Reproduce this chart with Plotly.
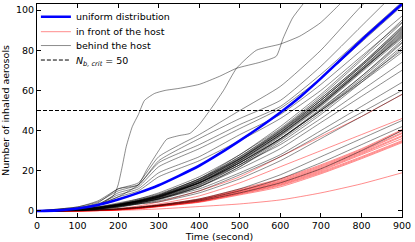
import plotly.graph_objects as go

# ---------------- data ----------------
TIME = [0, 100, 150, 200, 250, 300, 400, 500, 600, 700, 800, 900]

uniform_t = [0, 50, 100, 150, 200, 250, 300, 350, 400, 450, 500, 550, 600, 650, 700, 750, 800, 850, 900]
uniform_v = [0, 0.3, 1.2, 3, 5.7, 9, 12.8, 17.5, 22.5, 28.5, 35, 41.8, 49, 57, 66, 75.5, 85, 94, 103]

# "behind the host" lines with their own time grids
behind_a_t = [0, 100, 150, 190, 200, 210, 220, 235, 250, 265, 290, 316, 350, 400, 450, 492, 550, 590, 607, 630, 656, 680]
behind_a_v = [0, 0.5, 2.5, 8, 13, 22, 32, 42, 48, 55, 58.5, 60, 61, 63, 67, 71, 74, 77, 86, 96, 103, 110]
behind_b_t = [0, 100, 150, 200, 250, 271, 300, 320, 350, 377, 400, 427, 460, 492, 541, 599, 648, 698, 747, 780]
behind_b_v = [0, 1, 3, 7, 13, 20.7, 30, 35.7, 37.5, 38.6, 43, 50.3, 60, 71, 80, 83, 87, 93.5, 103, 110]

# "behind the host" lines on the common TIME grid
behind_u3 = [0, 2, 5, 11, 14, 27, 38, 50, 62, 80, 102, 120]
behind_u4 = [0, 1.5, 4, 11, 13, 25, 36, 46, 55, 72, 92, 112]
behind_u5 = [0, 2, 4.5, 10, 13, 24, 33, 43, 52, 68, 86, 104]
behind_u6 = [0, 1, 3, 9, 12, 22, 31, 41, 51, 66, 84, 102]
behind_u7 = [0, 1.5, 3.5, 8, 11, 19, 27, 38, 48, 63, 80, 97]
behind_u8 = [0, 1, 3, 7, 10, 17, 25, 35, 46, 60, 77, 94]
behind_d1 = [0, 0.8, 2, 4, 6, 9, 17, 28, 42, 58, 76, 95]
behind_d2 = [0, 0.6, 1.8, 3.5, 6, 8.5, 16, 28, 41, 57, 75, 93.5]
behind_d3 = [0, 0.5, 1.5, 3.5, 5.5, 8, 16, 27, 40, 56, 73, 92]
behind_d4 = [0, 0.7, 2, 3, 5, 7.5, 15, 26, 40, 55, 72, 91]
behind_d5 = [0, 0.4, 1.2, 2.8, 5, 7, 15, 26, 39, 55, 72, 90]
behind_d6 = [0, 0.5, 1.5, 3, 5.5, 8, 16, 26, 39, 54, 71, 89]
behind_d7 = [0, 0.6, 1.6, 3.2, 4.8, 7, 14, 25, 38, 53, 70, 88]
behind_d8 = [0, 0.5, 1.4, 2.6, 4.5, 6.5, 14, 25, 38, 53, 70, 87]
behind_d9 = [0, 0.4, 1, 2.4, 4.2, 6.5, 13, 24, 37, 52, 69, 86]
behind_d10 = [0, 0.5, 1.3, 2.8, 4.5, 7, 14, 24, 36, 51, 67, 85]
behind_d11 = [0, 0.3, 1, 2.2, 4, 6, 13, 23, 36, 50, 66, 83.5]
behind_d12 = [0, 0.4, 1.2, 2.5, 4, 6, 12, 22, 35, 49, 65, 82]
behind_d13 = [0, 0.5, 1.5, 3, 5, 7.5, 14, 24, 36, 50, 65, 80]
behind_d14 = [0, 0.3, 0.8, 1.8, 3.5, 5.5, 12, 22, 34, 48, 64, 81]
behind_d15 = [0, 0.6, 1.7, 3.3, 5.2, 7.8, 15.5, 27, 40.5, 56, 73, 91.5]
behind_d16 = [0, 0.4, 1.3, 2.7, 4.6, 6.8, 14.5, 25.5, 38.5, 53.5, 70.5, 88.5]
behind_d17 = [0, 0.5, 1.4, 2.9, 4.9, 7.3, 14.8, 25.8, 39, 54, 71, 89.5]
behind_d18 = [0, 0.6, 1.5, 3.1, 5.1, 7.6, 15.2, 26.5, 39.5, 55, 72.5, 90.5]
behind_d19 = [0, 0.4, 1.1, 2.5, 4.3, 6.6, 13.5, 24.5, 37.5, 52.5, 69.5, 87.5]
behind_d20 = [0, 0.5, 1.3, 2.7, 4.7, 7, 14.2, 25, 38, 53, 70, 86.5]
behind_d21 = [0, 0.3, 0.9, 2, 3.8, 6, 12.5, 23, 35.5, 50.5, 67, 84]
behind_m1 = [0, 0.5, 1.5, 3, 4.5, 7, 14, 24, 36, 50, 64, 79]
behind_m2 = [0, 0.6, 2, 3.5, 5, 7.5, 14, 23, 33, 46, 60, 74]
behind_m3 = [0, 0.4, 1.2, 2.5, 4, 6, 12, 21, 31, 44, 57, 70]
behind_m4 = [0, 0.5, 1.5, 3, 4.5, 6, 11, 19, 28, 40, 52, 64]
behind_m5 = [0, 0.3, 1, 2, 3.5, 5, 10, 18, 27, 38, 49, 60]
behind_m6 = [0, 0.4, 1.2, 2.5, 3.5, 4.5, 9, 16, 25, 36, 47, 58]
behind_m7 = [0, 0.2, 0.6, 1.2, 2, 3, 6, 11, 18, 27, 36, 45]
behind_m8 = [0, 0.2, 0.5, 1, 1.8, 2.8, 5.5, 10, 16, 24, 33, 42]
behind_m9 = [0, 0.1, 0.4, 0.8, 1.5, 2.5, 5, 9, 14, 21, 30, 40]

# "in front of the host" lines on the common TIME grid
front_r1 = [0, 0.1, 0.5, 1.2, 2.5, 4.5, 10, 17, 27, 37, 47, 58]
front_r2 = [0, 0.1, 0.4, 1, 2, 3.5, 7.5, 14, 22, 30, 38, 46]
front_r3 = [0, 0.1, 0.3, 0.9, 1.8, 3, 6, 11, 16, 23, 31, 40.5]
front_r4 = [0, 0.1, 0.3, 0.8, 1.7, 2.9, 5.8, 10.5, 15.5, 22.5, 30.5, 40]
front_r5 = [0, 0.1, 0.3, 0.8, 1.6, 2.8, 5.6, 10.2, 15, 22, 30, 39]
front_r6 = [0, 0.1, 0.3, 0.7, 1.5, 2.7, 5.4, 10, 14.6, 21.5, 29.5, 38.5]
front_r7 = [0, 0.1, 0.2, 0.7, 1.5, 2.6, 5.2, 9.6, 14.2, 21, 29, 37.5]
front_r8 = [0, 0.1, 0.2, 0.7, 1.4, 2.5, 5, 9.3, 13.8, 20.5, 28.5, 37]
front_r9 = [0, 0.1, 0.2, 0.6, 1.3, 2.4, 4.8, 9, 13.4, 20, 28, 36]
front_r10 = [0, 0.1, 0.2, 0.6, 1.3, 2.3, 4.6, 8.7, 13, 19.5, 27, 35]
front_r11 = [0, 0.1, 0.2, 0.6, 1.2, 2.2, 4.5, 8.4, 12.6, 19, 26.5, 34.5]
front_r12 = [0, 0.05, 0.2, 0.5, 1.1, 2.1, 4.3, 8, 12, 18.5, 26, 34]
front_r13 = [0, 0, 0.1, 0.3, 0.6, 1, 2.2, 3.5, 5.5, 9, 13.5, 19]

N_CRIT = 50
X_TICKS = [0, 100, 200, 300, 400, 500, 600, 700, 800, 900]
Y_TICKS = [0, 20, 40, 60, 80, 100]

# ---------------- figure ----------------
FONT = "DejaVu Sans"
RED = "rgba(255,0,0,0.5)"
GRAY = "rgba(0,0,0,0.5)"

fig = go.Figure()

front_lines = [front_r1, front_r2, front_r3, front_r4, front_r5, front_r6, front_r7,
               front_r8, front_r9, front_r10, front_r11, front_r12, front_r13]
behind_grid = [behind_u3, behind_u4, behind_u5, behind_u6, behind_u7, behind_u8,
               behind_d1, behind_d2, behind_d3, behind_d4, behind_d5, behind_d6, behind_d7,
               behind_d8, behind_d9, behind_d10, behind_d11, behind_d12, behind_d13,
               behind_d14, behind_d15, behind_d16, behind_d17, behind_d18, behind_d19,
               behind_d20, behind_d21,
               behind_m1, behind_m2, behind_m3, behind_m4, behind_m5, behind_m6,
               behind_m7, behind_m8, behind_m9]

for i, ys in enumerate(front_lines):
    fig.add_trace(go.Scatter(x=TIME, y=ys, mode="lines",
                             line=dict(color=RED, width=0.9, shape="spline", smoothing=0.6),
                             name="in front of the host", showlegend=(i == 0),
                             legend="legend2", hoverinfo="skip"))

behind_all = [(behind_a_t, behind_a_v), (behind_b_t, behind_b_v)] + [(TIME, ys) for ys in behind_grid]
for i, (xs, ys) in enumerate(behind_all):
    fig.add_trace(go.Scatter(x=xs, y=ys, mode="lines",
                             line=dict(color=GRAY, width=0.9, shape="spline", smoothing=0.5),
                             name="behind the host", showlegend=(i == 0),
                             legend="legend3", hoverinfo="skip"))

fig.add_trace(go.Scatter(x=[X_TICKS[0], X_TICKS[-1]], y=[N_CRIT, N_CRIT], mode="lines",
                         line=dict(color="black", width=1, dash="4px,2px"),
                         name="<i>N</i><sub><i>b, crit</i></sub> = 50",
                         legend="legend4", hoverinfo="skip"))

fig.add_trace(go.Scatter(x=uniform_t, y=uniform_v, mode="lines",
                         line=dict(color="#0000ff", width=2.6, shape="spline", smoothing=0.6),
                         name="uniform distribution", legend="legend", hoverinfo="skip"))

def leg(y):
    return dict(x=-0.003, y=y, xanchor="left", yanchor="middle",
                bgcolor="rgba(0,0,0,0)", borderwidth=0, itemwidth=30,
                font=dict(family=FONT, size=9.5, color="black"))

fig.update_layout(
    width=415, height=242,
    margin=dict(l=37, r=13, t=4, b=25, autoexpand=False),
    paper_bgcolor="white", plot_bgcolor="white",
    font=dict(family=FONT, size=9.5, color="black"),
    legend=leg(0.940), legend2=leg(0.870), legend3=leg(0.805), legend4=leg(0.737),
    xaxis=dict(range=[0, 900], tickvals=X_TICKS, ticks="inside", ticklen=4,
               tickcolor="black", mirror="ticks", showline=True, linecolor="black",
               linewidth=1, showgrid=False, zeroline=False, automargin=False,
               title=dict(text="Time (second)", standoff=0, font=dict(size=9.5)),
               tickfont=dict(size=9.5)),
    yaxis=dict(range=[-3, 103], tickvals=Y_TICKS, ticks="inside", ticklen=4,
               tickcolor="black", mirror="ticks", showline=True, linecolor="black",
               linewidth=1, showgrid=False, zeroline=False, automargin=False,
               title=dict(text="Number of inhaled aerosols", standoff=4, font=dict(size=9.5)),
               tickfont=dict(size=9.5)),
    showlegend=True,
)

fig.write_html("out.html", config={"displayModeBar": False},
               post_script="document.body.style.margin='0px';document.body.style.padding='0px';")
